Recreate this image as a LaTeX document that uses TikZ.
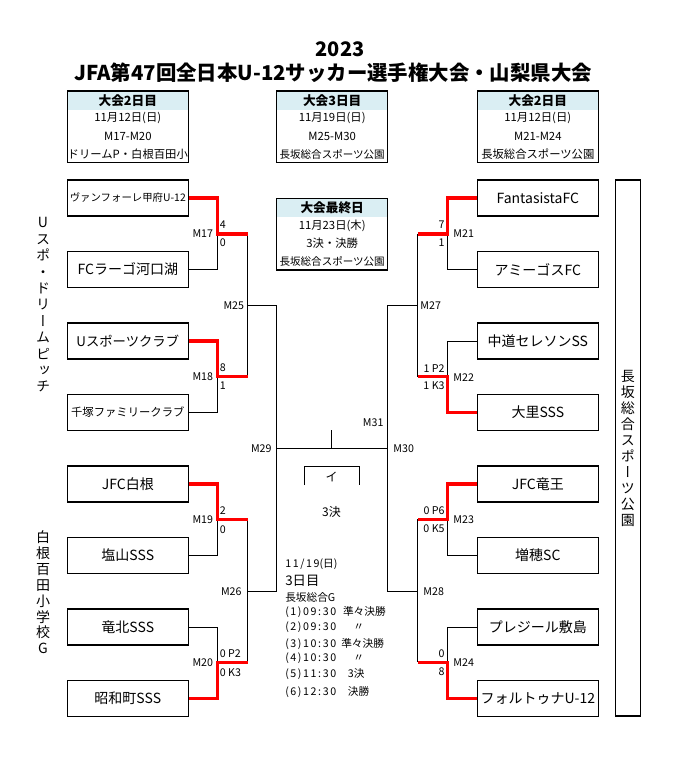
\documentclass[tikz,border=0pt]{standalone}
\usepackage{fontspec}
\setmainfont{Noto Sans CJK JP}
\newfontfamily\vjp{Noto Sans CJK JP}[RawFeature=+vert]
\newfontfamily\wjp{Noto Sans CJK JP}[LetterSpace=15]
\definecolor{band}{RGB}{218,238,243}
\newcommand{\tm}[1]{{\wjp #1}}
\begin{document}
\begin{tikzpicture}[x=0.75pt,y=-0.75pt,
  team/.style={draw, line width=0.8pt, minimum width=90.75pt, minimum height=27pt, inner sep=0pt, font=\fontsize{10.5}{12}\selectfont},
  lose/.style={line width=0.75pt},
  win/.style={red, line width=2.3pt},
  boxline/.style={line width=0.8pt},
  mlab/.style={font=\fontsize{8}{9}\selectfont, inner sep=0.5pt},
  hdr/.style={font=\bfseries\fontsize{9.5}{11}\selectfont, inner sep=0pt},
  hrow/.style={font=\fontsize{8.5}{10}\selectfont, inner sep=0pt},
  hrows/.style={font=\fontsize{7.9}{10}\selectfont, inner sep=0pt},
  vt/.style={align=center, inner sep=0pt},
  note/.style={anchor=west, inner sep=0pt, font=\fontsize{8}{9}\selectfont}]
\useasboundingbox (0,0) rectangle (680,773);

% title
\node[font=\bfseries\fontsize{15}{16}\selectfont, inner sep=0pt] (yr) at (340,49) {2023};
\node[font=\bfseries\fontsize{15.3}{16}\selectfont, inner sep=0pt] (title) at (333,73) {JFA第47回全日本U-12サッカー選手権大会・山梨県大会};

% header boxes
\fill[band] (67.3,91) rectangle (188.3,110);
\draw[boxline] (67.3,91) rectangle (188.3,162.5);
\node[hdr] (h1a) at (127.8,100.7) {大会2日目};
\node[hrow] (h1b) at (127.8,118.3) {11月12日(日)};
\node[hrow] (h1c) at (127.8,136.7) {M17-M20};
\node[hrow] (h1d) at (127.8,154.3) {ドリームP・白根百田小};

\fill[band] (276.7,91) rectangle (387.7,110);
\draw[boxline] (276.7,91) rectangle (387.7,162.5);
\node[hdr] (h2a) at (332.2,100.7) {大会3日目};
\node[hrow] (h2b) at (332.2,118.3) {11月19日(日)};
\node[hrow] (h2c) at (332.2,136.7) {M25-M30};
\node[hrows] (h2d) at (332.2,154.3) {長坂総合スポーツ公園};

\fill[band] (477.3,91) rectangle (598.3,110);
\draw[boxline] (477.3,91) rectangle (598.3,162.5);
\node[hdr] (h3a) at (537.8,100.7) {大会2日目};
\node[hrow] (h3b) at (537.8,118.3) {11月12日(日)};
\node[hrow] (h3c) at (537.8,136.7) {M21-M24};
\node[hrow] (h3d) at (537.8,154.3) {長坂総合スポーツ公園};

% final day box
\fill[band] (276.7,198.3) rectangle (387.7,216.7);
\draw[boxline] (276.7,198.3) rectangle (387.7,270);
\node[hdr] (f1) at (332.2,207.5) {大会最終日};
\node[hrow] (f2) at (332.2,226) {11月23日(木)};
\node[hrow] (f3) at (332.2,243.5) {3決・決勝};
\node[hrows] (f4) at (332.2,261) {長坂総合スポーツ公園};

% side labels
\node[vt, font=\vjp\fontsize{10.5}{12.3}\selectfont] (v1) at (43,305) {U\\ス\\ポ\\・\\ド\\リ\\ー\\ム\\ピ\\ッ\\チ};
\node[vt, font=\vjp\fontsize{10.5}{11.9}\selectfont] (v2) at (43,592.4) {白\\根\\百\\田\\小\\学\\校\\G};
\node[draw, line width=0.8pt, minimum width=18.2pt, minimum height=402pt, inner sep=0pt] (side) at (627.9,448) {};
\node[vt, font=\vjp\fontsize{10.5}{12}\selectfont] (v3) at (627.9,448.4) {長\\坂\\総\\合\\ス\\ポ\\ー\\ツ\\公\\園};

% teams left
\node[team, font=\fontsize{7.8}{9}\selectfont] (L1) at (127.8,198) {ヴァンフォーレ甲府U-12};
\node[team] (L2) at (127.8,269.5) {FCラーゴ河口湖};
\node[team, font=\fontsize{10}{12}\selectfont] (L3) at (127.8,341) {Uスポーツクラブ};
\node[team, font=\fontsize{8.5}{10}\selectfont] (L4) at (127.8,412.5) {千塚ファミリークラブ};
\node[team] (L5) at (127.8,484) {JFC白根};
\node[team] (L6) at (127.8,555.5) {塩山SSS};
\node[team] (L7) at (127.8,627) {竜北SSS};
\node[team] (L8) at (127.8,698.5) {昭和町SSS};
% teams right
\node[team] (R1) at (537.8,198) {FantasistaFC};
\node[team] (R2) at (537.8,269.5) {アミーゴスFC};
\node[team] (R3) at (537.8,341) {中道セレソンSS};
\node[team] (R4) at (537.8,412.5) {大里SSS};
\node[team] (R5) at (537.8,484) {JFC竜王};
\node[team] (R6) at (537.8,555.5) {増穂SC};
\node[team] (R7) at (537.8,627) {プレジール敷島};
\node[team] (R8) at (537.8,698.5) {フォルトゥナU-12};

% junction coordinates
\coordinate (a17) at (217.5,234);   \coordinate (b17) at (247.5,234);
\coordinate (a18) at (217.5,376.5); \coordinate (b18) at (247.5,376.5);
\coordinate (a19) at (217.5,519.3); \coordinate (b19) at (247.5,519.3);
\coordinate (a20) at (217.5,662.3); \coordinate (b20) at (247.5,662.3);
\coordinate (b25) at (247.5,305.3); \coordinate (c25) at (276.5,305.3);
\coordinate (b26) at (247.5,591.5); \coordinate (c26) at (276.5,591.5);
\coordinate (c29) at (276.5,448.3); \coordinate (d30) at (387,448.3);
\coordinate (m31) at (331.5,448.3); \coordinate (m31t) at (331.5,430);
\coordinate (a21) at (447.3,234);   \coordinate (b21) at (417.8,234);
\coordinate (a22) at (447.3,376.5); \coordinate (b22) at (417.8,376.5);
\coordinate (a23) at (447.3,519.3); \coordinate (b23) at (417.8,519.3);
\coordinate (a24) at (447.3,662.3); \coordinate (b24) at (417.8,662.3);
\coordinate (b27) at (417.8,305.3); \coordinate (d27) at (387,305.3);
\coordinate (b28) at (417.8,591.5); \coordinate (d28) at (387,591.5);
\coordinate (i1) at (304,485); \coordinate (i1t) at (304,466.7);
\coordinate (i2) at (359.3,485); \coordinate (i2t) at (359.3,466.7);

% losing / neutral lines
\draw[lose] (L2.east) -| (a17);
\draw[lose] (L4.east) -| (a18);
\draw[lose] (L6.east) -| (a19);
\draw[lose] (L7.east) -| (a20);
\draw[lose] (b17) -- (b18);
\draw[lose] (b19) -- (b20);
\draw[lose] (b25) -- (c25) -- (c26) -- (b26);
\draw[lose] (c29) -- (d30);
\draw[lose] (m31) -- (m31t);
\draw[lose] (R2.west) -| (a21);
\draw[lose] (R3.west) -| (a22);
\draw[lose] (R6.west) -| (a23);
\draw[lose] (R7.west) -| (a24);
\draw[lose] (b21) -- (b22);
\draw[lose] (b23) -- (b24);
\draw[lose] (b27) -- (d27) -- (d28) -- (b28);
\draw[lose] (i1) -- (i1t) -- (i2t) -- (i2);

% winning lines
\draw[win] (L1.east) -| (a17) -- (b17);
\draw[win] (L3.east) -| (a18) -- (b18);
\draw[win] (L5.east) -| (a19) -- (b19);
\draw[win] (L8.east) -| (a20) -- (b20);
\draw[win] (R1.west) -| (a21) -- (b21);
\draw[win] (R4.west) -| (a22) -- (b22);
\draw[win] (R5.west) -| (a23) -- (b23);
\draw[win] (R8.west) -| (a24) -- (b24);

% match labels left
\node[mlab, anchor=east] (M17) at (214,234) {M17};
\node[mlab, anchor=east] (M18) at (214,376.5) {M18};
\node[mlab, anchor=east] (M19) at (214,519.3) {M19};
\node[mlab, anchor=east] (M20) at (214,663) {M20};
\node[mlab, anchor=east] (M25) at (245,305.3) {M25};
\node[mlab, anchor=east] (M26) at (242.5,591.5) {M26};
\node[mlab, anchor=east] (M29) at (272.5,448.3) {M29};
% match labels right
\node[mlab, anchor=west] (M21) at (452.5,234) {M21};
\node[mlab, anchor=west] (M22) at (452.5,377.5) {M22};
\node[mlab, anchor=west] (M23) at (452.5,520) {M23};
\node[mlab, anchor=west] (M24) at (452.5,663) {M24};
\node[mlab, anchor=west] (M27) at (419.5,305.3) {M27};
\node[mlab, anchor=west] (M28) at (422.5,591.5) {M28};
\node[mlab, anchor=west] (M30) at (392.5,448.3) {M30};
\node[mlab, anchor=west] (M31) at (362,422.3) {M31};

% scores left
\node[mlab, anchor=west] (s17a) at (219,225) {4};
\node[mlab, anchor=west] (s17b) at (219,243) {0};
\node[mlab, anchor=west] (s18a) at (219,367.5) {8};
\node[mlab, anchor=west] (s18b) at (219,385.5) {1};
\node[mlab, anchor=west] (s19a) at (219,510.7) {2};
\node[mlab, anchor=west] (s19b) at (219,529.3) {0};
\node[mlab, anchor=west] (s20a) at (219,654) {0 P2};
\node[mlab, anchor=west] (s20b) at (219,672.3) {0 K3};
% scores right
\node[mlab, anchor=east] (s21a) at (445.5,225) {7};
\node[mlab, anchor=east] (s21b) at (445.5,243) {1};
\node[mlab, anchor=east] (s22a) at (445.5,369) {1 P2};
\node[mlab, anchor=east] (s22b) at (445.5,386) {1 K3};
\node[mlab, anchor=east] (s23a) at (445.5,511) {0 P6};
\node[mlab, anchor=east] (s23b) at (445.5,529) {0 K5};
\node[mlab, anchor=east] (s24a) at (445.5,654) {0};
\node[mlab, anchor=east] (s24b) at (445.5,671.7) {8};

% third place
\node[inner sep=0pt, font=\fontsize{9}{10}\selectfont] (iro) at (331.5,476.5) {イ};
\node[inner sep=0pt, font=\fontsize{9}{10}\selectfont] (k3) at (331.5,511.5) {3決};

% schedule notes
\node[note] (n1) at (285,564) {\tm{11/19}(日)};
\node[note, font=\fontsize{10}{11}\selectfont] (n2) at (285,581) {3日目};
\node[note] (n3) at (285,597.7) {長坂総合G};
\node[note] (n4) at (285,612.3) {\makebox[43.3pt][l]{\tm{(1)09:30}}準々決勝};
\node[note] (n5) at (285,627.3) {\makebox[51pt][l]{\tm{(2)09:30}}〃};
\node[note] (n6) at (285,644) {\makebox[42pt][l]{\tm{(3)10:30}}準々決勝};
\node[note] (n7) at (285,658.3) {\makebox[51pt][l]{\tm{(4)10:30}}〃};
\node[note] (n8) at (285,674.3) {\makebox[47pt][l]{\tm{(5)11:30}}3決};
\node[note] (n9) at (285,691.7) {\makebox[47pt][l]{\tm{(6)12:30}}決勝};
\end{tikzpicture}
\end{document}
